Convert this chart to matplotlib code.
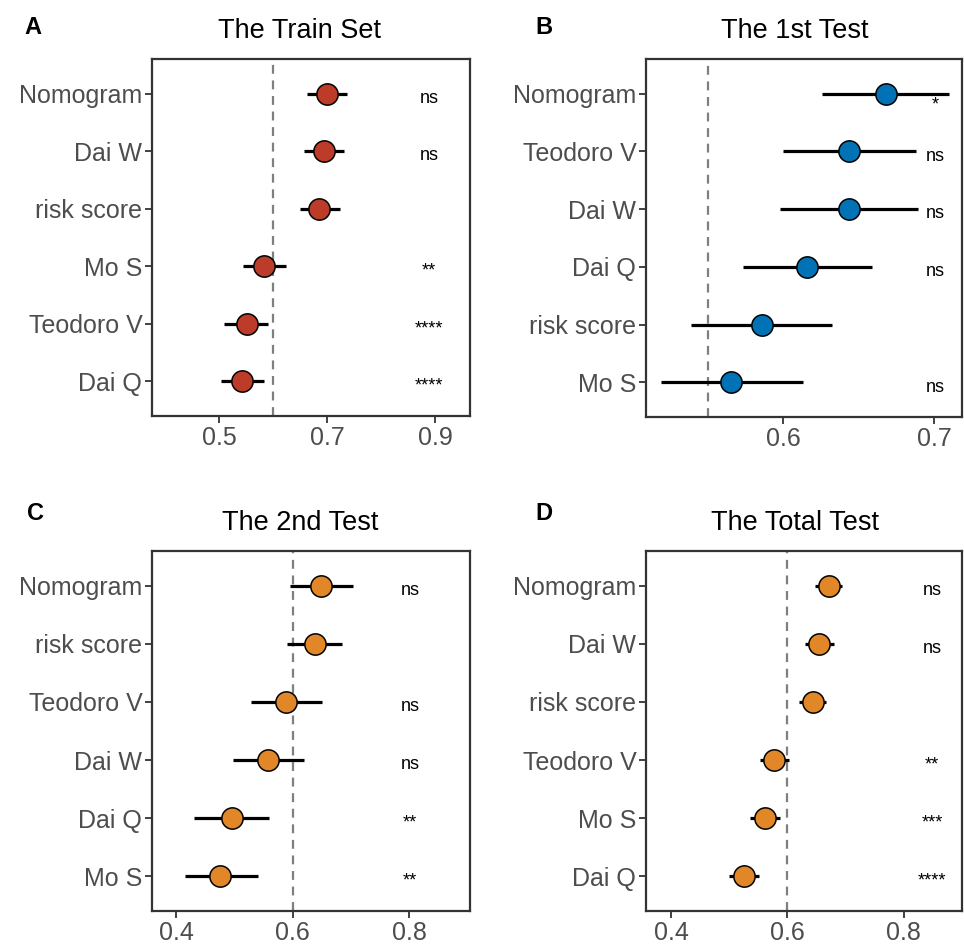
import matplotlib
matplotlib.use("Agg")
import matplotlib.pyplot as plt

plt.rcParams['font.family'] = ['Liberation Sans', 'DejaVu Sans']

# panel A - train set
train_names = ["Nomogram", "Dai W", "risk score", "Mo S", "Teodoro V", "Dai Q"]
train_auc = [0.700, 0.694, 0.685, 0.583, 0.552, 0.543]
train_lo = [0.663, 0.657, 0.650, 0.544, 0.509, 0.503]
train_hi = [0.737, 0.731, 0.724, 0.625, 0.590, 0.583]
train_sig = ["ns", "ns", "", "**", "****", "****"]

# panel B - 1st test
test1_names = ["Nomogram", "Teodoro V", "Dai W", "Dai Q", "risk score", "Mo S"]
test1_auc = [0.668, 0.6435, 0.6435, 0.616, 0.5856, 0.5656]
test1_lo = [0.626, 0.600, 0.598, 0.573, 0.539, 0.519]
test1_hi = [0.710, 0.688, 0.689, 0.659, 0.632, 0.613]
test1_sig = ["*", "ns", "ns", "ns", "", "ns"]

# panel C - 2nd test
test2_names = ["Nomogram", "risk score", "Teodoro V", "Dai W", "Dai Q", "Mo S"]
test2_auc = [0.648, 0.638, 0.588, 0.5575, 0.4957, 0.4756]
test2_lo = [0.596, 0.590, 0.528, 0.4985, 0.4315, 0.4155]
test2_hi = [0.703, 0.685, 0.651, 0.619, 0.560, 0.5404]
test2_sig = ["ns", "", "ns", "ns", "**", "**"]

# panel D - total test
total_names = ["Nomogram", "Dai W", "risk score", "Teodoro V", "Mo S", "Dai Q"]
total_auc = [0.671, 0.655, 0.6436, 0.5777, 0.561, 0.526]
total_lo = [0.648, 0.630, 0.6195, 0.5525, 0.5353, 0.5002]
total_hi = [0.694, 0.680, 0.667, 0.6023, 0.5869, 0.5518]
total_sig = ["ns", "ns", "", "**", "***", "****"]

W, H = 964, 944
fig = plt.figure(figsize=(W / 100, H / 100), dpi=100)


def px_axes(left, top, right, bottom):
    return fig.add_axes([left / W, 1 - bottom / H, (right - left) / W, (bottom - top) / H])


def forest(ax, names, auc, lo, hi, sig, color, ref, xlim, ticks, sig_x, title, title_x, title_y, letter, letter_xy):
    n = len(names)
    ys = [n - i for i in range(n)]
    ax.axvline(ref, color="#7f7f7f", lw=1.6, ls=(0, (4, 3)), zorder=1)
    ax.hlines(ys, lo, hi, color="black", lw=2.3, zorder=2)
    ax.scatter(auc, ys, s=235, color=color, edgecolor="black", linewidth=1.1, zorder=3)
    for y, s in zip(ys, sig):
        if s:
            # a lone star sits under the CI line in the reference
            off = 0.28 if s == "*" else 0.16
            ax.text(sig_x, y - off, s, ha="center", va="baseline", fontsize=13, color="black")
    ax.set_xlim(*xlim)
    ax.set_ylim(0.4, n + 0.6)
    ax.set_xticks(ticks)
    ax.set_xticklabels([("%g" % t) for t in ticks])
    ax.set_yticks(ys)
    ax.set_yticklabels(names)
    ax.tick_params(labelsize=18, labelcolor="#4d4d4d", color="#333333", length=5, width=1.3, pad=2)
    for sp in ax.spines.values():
        sp.set_color("#333333")
        sp.set_linewidth(1.6)
    fig.text(title_x / W, 1 - title_y / H, title, ha="center", va="center", fontsize=19.5)
    fig.text(letter_xy[0] / W, 1 - letter_xy[1] / H, letter, ha="center", va="center",
             fontsize=17, fontweight="bold")


axA = px_axes(152, 59, 470, 416)
forest(axA, train_names, train_auc, train_lo, train_hi, train_sig, "#BC3C29", 0.6,
       (0.376, 0.965), [0.5, 0.7, 0.9], 0.889, "The Train Set", 300, 31, "A", (33, 27))

axB = px_axes(646, 59, 962, 417)
forest(axB, test1_names, test1_auc, test1_lo, test1_hi, test1_sig, "#0072B5", 0.55,
       (0.509, 0.7185), [0.6, 0.7], 0.701, "The 1st Test", 795, 31, "B", (544, 27))

axC = px_axes(152, 551, 470, 911)
forest(axC, test2_names, test2_auc, test2_lo, test2_hi, test2_sig, "#E18727", 0.6,
       (0.3588, 0.904), [0.4, 0.6, 0.8], 0.801, "The 2nd Test", 300, 523, "C", (35, 513))

axD = px_axes(646, 551, 962, 911)
forest(axD, total_names, total_auc, total_lo, total_hi, total_sig, "#E18727", 0.6,
       (0.357, 0.9), [0.4, 0.6, 0.8], 0.8487, "The Total Test", 795, 523, "D", (544, 513))

fig.savefig("out.png", dpi=100)
